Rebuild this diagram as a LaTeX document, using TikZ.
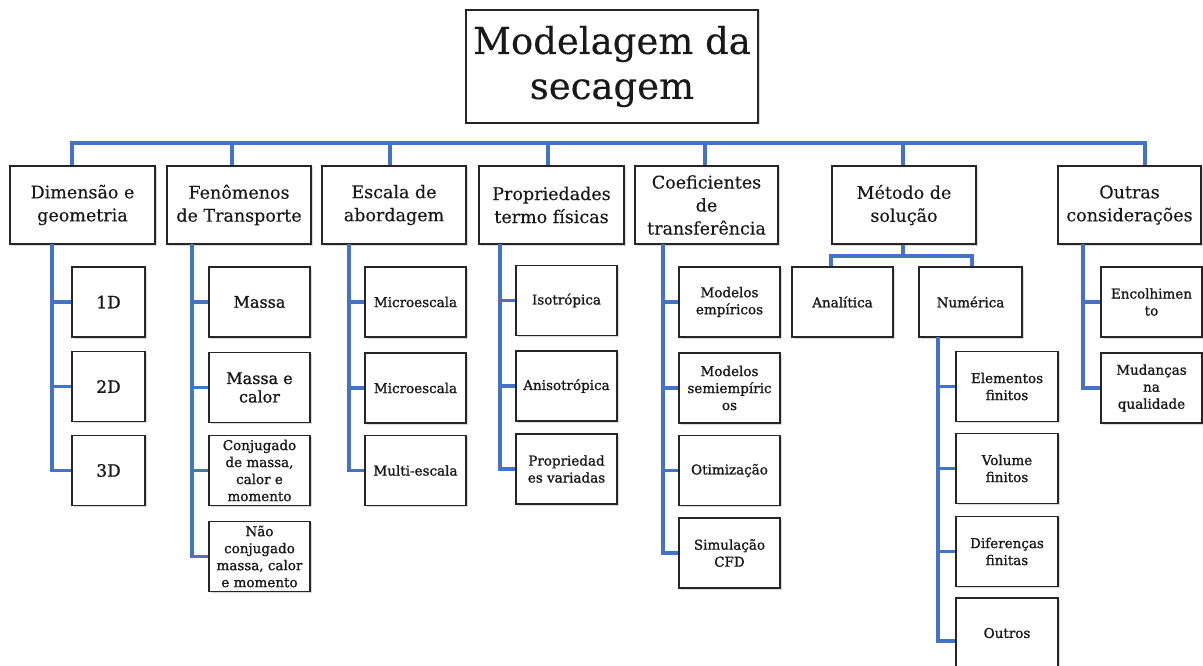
\documentclass[tikz,border=0pt]{standalone}
\usepackage{fontspec}
\setmainfont{DejaVu Serif}
\newfontfamily\kidfont[FakeBold=1.2]{DejaVu Serif}
\newfontfamily\catfont[FakeBold=0.3]{DejaVu Serif}
\usetikzlibrary{shadows}
\definecolor{linkblue}{HTML}{4472C4}
\begin{document}
\begin{tikzpicture}[x=1pt,y=-1pt,
  box/.style={draw=black!85, line width=1.3pt, fill=white, inner sep=0pt, align=center, text=black!90,
    drop shadow={shadow xshift=1.5pt,shadow yshift=-1.5pt,opacity=0.3}},
  rootbox/.style={box, minimum width=292pt, minimum height=113pt, font=\catfont\fontsize{37}{45}\selectfont},
  catbox/.style={box, minimum height=78pt, font=\catfont\fontsize{17.5}{23}\selectfont},
  kidbox/.style={box, minimum width=101pt, minimum height=70pt, font=\kidfont\fontsize{13.5}{17}\selectfont},
  bigkid/.style={kidbox, font=\kidfont\fontsize{16}{18.5}\selectfont},
  dimkid/.style={kidbox, minimum width=73pt, font=\kidfont\fontsize{17}{20}\selectfont},
  link/.style={draw=linkblue, line width=3.4pt}
]
\useasboundingbox (0,0) rectangle (1203,666);

% root and categories
\node[rootbox] (root) at (612,66.5) {Modelagem da\\secagem};
\node[catbox, minimum width=145pt] (c1) at (82.5,205) {Dimensão e\\geometria};
\node[catbox, minimum width=144pt] (c2) at (239,205) {Fenômenos\\de Transporte};
\node[catbox, minimum width=144pt] (c3) at (394,205) {Escala de\\abordagem};
\node[catbox, minimum width=145pt] (c4) at (551.5,205) {Propriedades\\termo físicas};
\node[catbox, minimum width=143pt] (c5) at (706.5,205) {Coeficientes\\de\\transferência};
\node[catbox, minimum width=144pt] (c6) at (904,205) {Método de\\solução};
\node[catbox, minimum width=143pt] (c7) at (1129.5,205) {Outras\\considerações};

% children of c1
\node[dimkid] (k11) at (108.5,302) {1D};
\node[dimkid] (k12) at (108.5,386.5) {2D};
\node[dimkid] (k13) at (108.5,470.5) {3D};
% children of c2
\node[bigkid] (k21) at (259.5,302) {Massa};
\node[bigkid] (k22) at (259.5,387.5) {Massa e\\calor};
\node[kidbox] (k23) at (259.5,470.5) {Conjugado\\de massa,\\calor e\\momento};
\node[kidbox] (k24) at (259.5,556.5) {Não\\conjugado\\massa, calor\\e momento};
% children of c3
\node[kidbox] (k31) at (415.5,302) {Microescala};
\node[kidbox] (k32) at (415.5,388) {Microescala};
\node[kidbox] (k33) at (415.5,470.5) {Multi-escala};
% children of c4
\node[kidbox] (k41) at (566.5,300.5) {Isotrópica};
\node[kidbox] (k42) at (566.5,386) {Anisotrópica};
\node[kidbox] (k43) at (566.5,469) {Propriedad\\es variadas};
% children of c5
\node[kidbox] (k51) at (729.5,302) {Modelos\\empíricos};
\node[kidbox] (k52) at (729.5,388) {Modelos\\semiempíric\\os};
\node[kidbox] (k53) at (729.5,470.5) {Otimização};
\node[kidbox] (k54) at (729.5,553) {Simulação\\CFD};
% children of c6
\node[kidbox] (an) at (842.5,302) {Analítica};
\node[kidbox, minimum width=103pt] (nu) at (970.5,302) {Numérica};
\node[kidbox, minimum width=102pt] (n1) at (1007,386.5) {Elementos\\finitos};
\node[kidbox, minimum width=102pt] (n2) at (1007,468.5) {Volume\\finitos};
\node[kidbox, minimum width=102pt] (n3) at (1007,551.5) {Diferenças\\finitas};
\node[kidbox, minimum width=102pt] (n4) at (1007,633) {Outros};
% children of c7
\node[kidbox] (k71) at (1151.5,302) {Encolhimen\\to};
\node[kidbox] (k72) at (1151.5,388) {Mudanças\\na\\qualidade};

% top bar
\coordinate (b1) at (72,143);
\coordinate (b2) at (232,143);
\coordinate (b3) at (390,143);
\coordinate (b4) at (548,143);
\coordinate (b5) at (705,143);
\coordinate (b6) at (903,143);
\coordinate (b7) at (1145,143);
\draw[link] (b1 |- c1.north) -- (b1) -- (b7) -- (b7 |- c7.north);
\foreach \i in {2,...,6} { \draw[link] (b\i) -- (b\i |- c\i.north); }

% spines
\coordinate (s1) at (52,244);
\coordinate (s2) at (192,244);
\coordinate (s3) at (349,244);
\coordinate (s4) at (500,244);
\coordinate (s5) at (663,244);
\coordinate (s7) at (1083,244);
\coordinate (sn) at (938,337);

\draw[link] (s1) |- (k13.west);
\draw[link] (k11.west) -- (k11.west -| s1);
\draw[link] (k12.west) -- (k12.west -| s1);

\draw[link] (s2) |- (k24.west);
\foreach \k in {k21,k22,k23} { \draw[link] (\k.west) -- (\k.west -| s2); }

\draw[link] (s3) |- (k33.west);
\foreach \k in {k31,k32} { \draw[link] (\k.west) -- (\k.west -| s3); }

\draw[link] (s4) |- (k43.west);
\foreach \k in {k41,k42} { \draw[link] (\k.west) -- (\k.west -| s4); }

\draw[link] (s5) |- (k54.west);
\foreach \k in {k51,k52,k53} { \draw[link] (\k.west) -- (\k.west -| s5); }

\draw[link] (s7) |- (k72.west);
\draw[link] (k71.west) -- (k71.west -| s7);

\draw[link] (sn) |- ([yshift=-8pt]n4.west);
\foreach \k in {n1,n2,n3} { \draw[link] (\k.west) -- (\k.west -| sn); }

% method split
\coordinate (mm) at (903,256);
\coordinate (ma) at (831,256);
\coordinate (mn) at (972,256);
\draw[link] (c6.south -| mm) -- (mm);
\draw[link] (ma |- an.north) -- (ma) -- (mn) -- (mn |- nu.north);
\end{tikzpicture}
\end{document}
